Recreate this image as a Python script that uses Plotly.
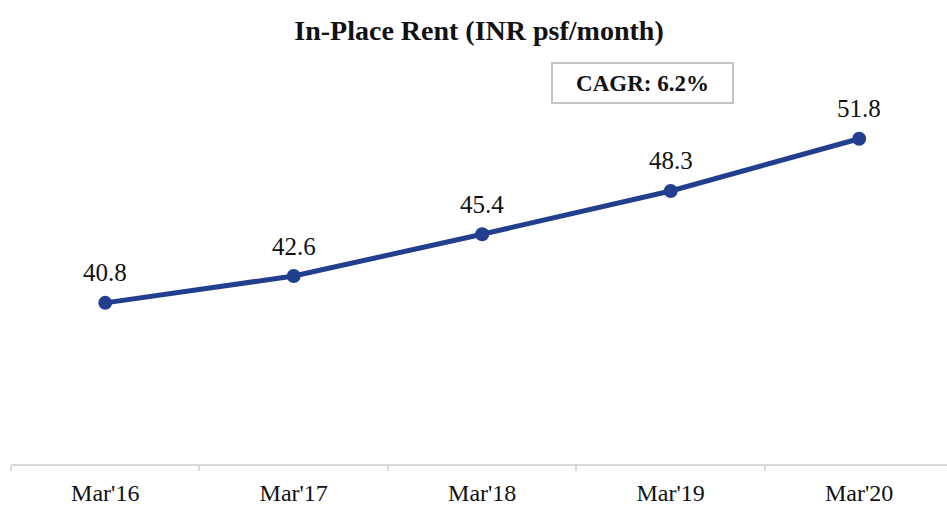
import plotly.graph_objects as go

# Data
periods = ["Mar'16", "Mar'17", "Mar'18", "Mar'19", "Mar'20"]
rent = [40.8, 42.6, 45.4, 48.3, 51.8]
cagr_label = "CAGR: 6.2%"

line_color = "#223E8E"
serif = "Liberation Serif, Times New Roman, serif"

fig = go.Figure()
fig.add_trace(go.Scatter(
    x=periods, y=rent, mode="lines+markers",
    line=dict(color=line_color, width=5),
    marker=dict(color=line_color, size=14),
    hoverinfo="skip", showlegend=False,
))

# Value labels above each point
for p, v in zip(periods, rent):
    fig.add_annotation(x=p, y=v, text=f"{v:.1f}", showarrow=False,
                       yshift=30, font=dict(family=serif, size=25, color="#111111"))

W, H = 947, 506
left, right, top, bottom = 11, 0, 91, 466

# CAGR callout box
fig.add_annotation(xref="paper", yref="paper",
                   x=(642 - left) / (W - left - right), y=(bottom - 83) / (bottom - top),
                   xanchor="center", yanchor="middle",
                   text=f"<b>{cagr_label}</b>", showarrow=False,
                   font=dict(family=serif, size=23, color="#111111"),
                   bordercolor="#c4c4c4", borderwidth=2, borderpad=6, bgcolor="white",
                   width=167, height=26)

fig.update_layout(
    width=W, height=H,
    margin=dict(l=left, r=right, t=top, b=H - bottom),
    paper_bgcolor="white", plot_bgcolor="white",
    title=dict(text="<b>In-Place Rent (INR psf/month)</b>", x=479 / W, xanchor="center",
               y=1 - 30 / H, yanchor="middle", yref="container",
               font=dict(family=serif, size=28, color="#111111")),
    xaxis=dict(type="category", range=[-0.5, 4.466], tickson="boundaries",
               ticks="outside", ticklen=5, tickcolor="#d9d9d9", tickwidth=2,
               showline=True, linecolor="#d9d9d9", linewidth=2, showgrid=False,
               ticklabelstandoff=6,
               tickfont=dict(family=serif, size=24, color="#111111"), fixedrange=True),
    yaxis=dict(range=[30, 55], visible=False, showgrid=False, zeroline=False, fixedrange=True),
)

fig.write_html("out.html")
